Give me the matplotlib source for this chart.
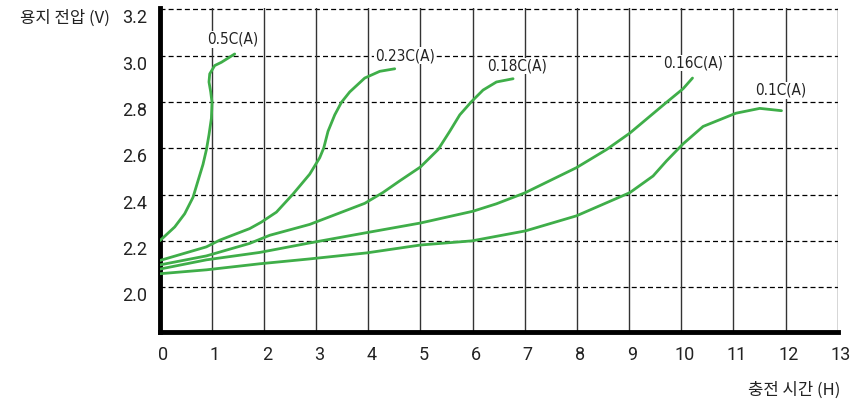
import matplotlib
matplotlib.use("Agg")
import matplotlib.pyplot as plt
import matplotlib.transforms as mtransforms

# ---- data ----
x_ticks = list(range(0, 14))
y_ticks = [2.0, 2.2, 2.4, 2.6, 2.8, 3.0, 3.2]
y_ticklabels = ["2.0", "2.2", "2.4", "2.6", "2.8", "3.0", "3.2"]

c05_x = [0.0, 0.288, 0.479, 0.639, 0.734, 0.830, 0.896, 0.945, 0.991, 1.003,
         0.978, 0.945, 0.959, 1.055, 1.183, 1.438]
c05_y = [2.200, 2.260, 2.317, 2.388, 2.459, 2.530, 2.594, 2.658, 2.729, 2.798,
         2.843, 2.886, 2.921, 2.957, 2.971, 3.007]

c023_x = [0.0, 0.895, 1.15, 1.726, 1.950, 2.238, 2.556, 2.876, 3.068, 3.145,
          3.227, 3.356, 3.484, 3.643, 3.931, 4.219, 4.506]
c023_y = [2.115, 2.174, 2.203, 2.253, 2.281, 2.324, 2.402, 2.488, 2.559, 2.601,
          2.673, 2.744, 2.798, 2.843, 2.903, 2.932, 2.943]

c018_x = [0.0, 0.895, 1.726, 2.109, 2.876, 3.931, 4.282, 4.602, 4.999, 5.337,
          5.561, 5.753, 5.977, 6.199, 6.456, 6.775]
c018_y = [2.096, 2.135, 2.189, 2.224, 2.271, 2.362, 2.409, 2.459, 2.519, 2.594,
          2.673, 2.744, 2.801, 2.851, 2.886, 2.900]

c016_x = [0.0, 0.895, 1.918, 2.876, 3.931, 4.999, 6.008, 6.456, 6.999, 7.990,
          8.565, 9.012, 9.716, 10.035, 10.215]
c016_y = [2.078, 2.118, 2.150, 2.191, 2.234, 2.277, 2.328, 2.360, 2.407, 2.516,
          2.594, 2.665, 2.798, 2.857, 2.903]

c01_x = [0.0, 0.901, 1.918, 2.876, 3.969, 4.999, 5.988, 7.012, 7.990, 9.012,
         9.459, 9.716, 10.035, 10.418, 11.045, 11.505, 11.921]
c01_y = [2.058, 2.075, 2.101, 2.122, 2.148, 2.182, 2.200, 2.243, 2.308, 2.408,
         2.480, 2.545, 2.619, 2.694, 2.751, 2.772, 2.762]

series = [
    (c05_x, c05_y, "0.5C(A)", (1.40, 3.07)),
    (c023_x, c023_y, "0.23C(A)", (4.70, 3.00)),
    (c018_x, c018_y, "0.18C(A)", (6.85, 2.955)),
    (c016_x, c016_y, "0.16C(A)", (10.22, 2.968)),
    (c01_x, c01_y, "0.1C(A)", (11.90, 2.85)),
]

green = "#3fae49"

fig = plt.figure(figsize=(8.54, 4.05), dpi=100)
ax = fig.add_axes([0.187, 0.180, 0.794, 0.800])

ax.set_xlim(0, 13)
ax.set_ylim(1.806, 3.205)

for y in y_ticks:
    ax.axhline(y, color="black", lw=0.9, ls=(0, (4, 2.5)), zorder=1)
for x in x_ticks[1:]:
    ax.axvline(x, color="#333333", lw=1.0, zorder=1)

for xs, ys, lab, (lx, ly) in series:
    ax.plot(xs, ys, color=green, lw=2.0, solid_joinstyle="round",
            solid_capstyle="round", zorder=3)
    ax.text(lx, ly, lab, fontsize=11, family="DejaVu Sans", fontstretch="condensed",
            ha="center", va="center", color="#222222", zorder=4,
            bbox=dict(facecolor="white", edgecolor="none", pad=0.5))

for s in ["top", "right"]:
    ax.spines[s].set_visible(False)
ax.spines["left"].set_linewidth(3.5)
ax.spines["bottom"].set_linewidth(3.5)

ax.set_xticks(x_ticks)
ax.set_xticklabels([str(v) for v in x_ticks])
ax.set_yticks(y_ticks)
ax.set_yticklabels(y_ticklabels)
ax.tick_params(axis="both", length=0, labelsize=13, colors="#222222")
ax.tick_params(axis="x", pad=10)
ax.tick_params(axis="y", pad=9)
for lbl in ax.get_xticklabels() + ax.get_yticklabels():
    lbl.set_family("Roboto")

offset = mtransforms.ScaledTranslation(0, -7 / 100, fig.dpi_scale_trans)
for lbl in ax.get_yticklabels():
    lbl.set_transform(lbl.get_transform() + offset)
xoff = mtransforms.ScaledTranslation(3 / 100, 0, fig.dpi_scale_trans)
for lbl in ax.get_xticklabels():
    lbl.set_transform(lbl.get_transform() + xoff)

fig.text(20 / 854, 1 - 18 / 405, "용지 전압 (V)", family=["Noto Sans CJK KR", "DejaVu Sans"],
         fontsize=12, ha="left", va="center", color="#222222")
fig.text(840 / 854, 1 - 390 / 405, "충전 시간 (H)", family=["Noto Sans CJK KR", "DejaVu Sans"],
         fontsize=12, ha="right", va="center", color="#222222")

fig.savefig("out.png", dpi=100)
